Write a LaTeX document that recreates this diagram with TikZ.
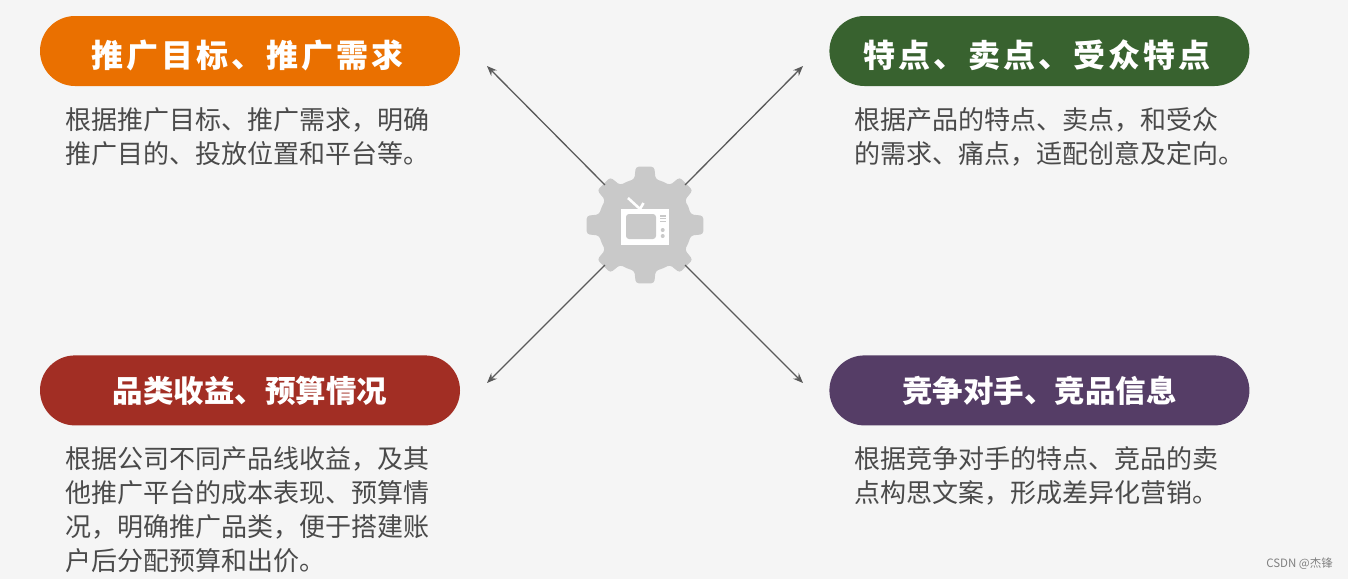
\documentclass[tikz,border=0pt]{standalone}
\usepackage{fontspec}
\setmainfont{Noto Sans CJK SC}
\newfontfamily\headwide{Noto Sans CJK SC}[LetterSpace=9.4]
\usepackage{tikz}
\usetikzlibrary{positioning, shapes.misc, arrows.meta}

\definecolor{pageback}{HTML}{F5F5F5}
\definecolor{orangehead}{HTML}{EA7000}
\definecolor{greenhead}{HTML}{38622F}
\definecolor{redhead}{HTML}{A22E24}
\definecolor{purplehead}{HTML}{553D66}
\definecolor{bodygrey}{HTML}{4A4A4A}
\definecolor{geargrey}{HTML}{C9C9C9}
\definecolor{arrowgrey}{HTML}{5A5A5A}

\begin{document}
\begin{tikzpicture}[
    x=1pt, y=-1pt,
    head/.style={rounded rectangle, minimum width=420pt, minimum height=70pt, inner sep=0pt, text=white, font=\fontsize{30.5}{34}\selectfont\bfseries},
    widehead/.style={head, text height=36pt, text depth=4pt, font=\fontsize{32}{34}\selectfont\headwide\bfseries},
    bodytext/.style={align=left, inner sep=0pt, text=bodygrey, font=\fontsize{26}{34}\selectfont},
    arrow/.style={draw=arrowgrey, line width=1.3pt, -{Stealth[length=10pt,width=8pt]}},
    hub/.style={circle, minimum size=113pt, inner sep=0pt}
]

\fill[pageback] (0,0) rectangle (1348,579);
\useasboundingbox (0,0) rectangle (1348,579);

% heads
\node[widehead, fill=orangehead] (target) at (250,51) {推广目标、推广需求\kern5pt};
\node[widehead, fill=greenhead, right=369pt of target] (feature) {特点、卖点、受众特点\kern5pt};
\node[head, fill=redhead, below=269pt of target] (budget) {品类收益、预算情况};
\node[head, fill=purplehead, below=269pt of feature] (rival) {竞争对手、竞品信息};

% texts
\node[bodytext, below right=21.5pt and -10pt of target.south west] (targettext) {根据推广目标、推广需求，明确\\推广目的、投放位置和平台等。};
\node[bodytext, below right=21.5pt and -10pt of feature.south west] (featuretext) {根据产品的特点、卖点，和受众\\的需求、痛点，适配创意及定向。};
\node[bodytext, below right=21pt and -10pt of budget.south west] (budgettext) {根据公司不同产品线收益，及其\\他推广平台的成本表现、预算情\\况，明确推广品类，便于搭建账\\户后分配预算和出价。};
\node[bodytext, below right=21pt and -10pt of rival.south west] (rivaltext) {根据竞争对手的特点、竞品的卖\\点构思文案，形成差异化营销。};

% gear with tv
\node[hub] (gear) at (645,225) {};
\begin{scope}[shift={(gear.center)}]
\fill[geargrey, rounded corners=3pt] (-22.5:47)
    \foreach \a in {0,45,...,315} {
        -- (\a-13:47) -- (\a-9:59) -- (\a+9:59) -- (\a+13:47) -- (\a+22.5:47)
    };
\fill[white] (-24.5,-16) rectangle (24,20);
\draw[white, line width=2.6pt] (-5,-16) -- (-17,-27) (-5,-16) -- (-1.5,-22);
\fill[geargrey, rounded corners=3pt] (-19,-11) rectangle (11,14);
\foreach \b in {-9,-6.3,-3.5}
    \draw[geargrey, line width=1.2pt] (15,\b) -- (21,\b);
\fill[geargrey] (17.7,5) circle (2pt);
\fill[geargrey] (17.7,11) circle (2pt);
\end{scope}

% arrow ends
\coordinate (endtarget) at (487,66);
\coordinate (endfeature) at (803,66);
\coordinate (endbudget) at (487,383);
\coordinate (endrival) at (803,383);

\draw[arrow] (gear.135) -- (endtarget);
\draw[arrow] (gear.45) -- (endfeature);
\draw[arrow] (gear.225) -- (endbudget);
\draw[arrow] (gear.315) -- (endrival);

\node[anchor=east, inner sep=0pt, text=gray, font=\fontsize{11.5}{14}\selectfont] (mark) at (1333,564) {CSDN @杰锋};

\end{tikzpicture}
\end{document}
